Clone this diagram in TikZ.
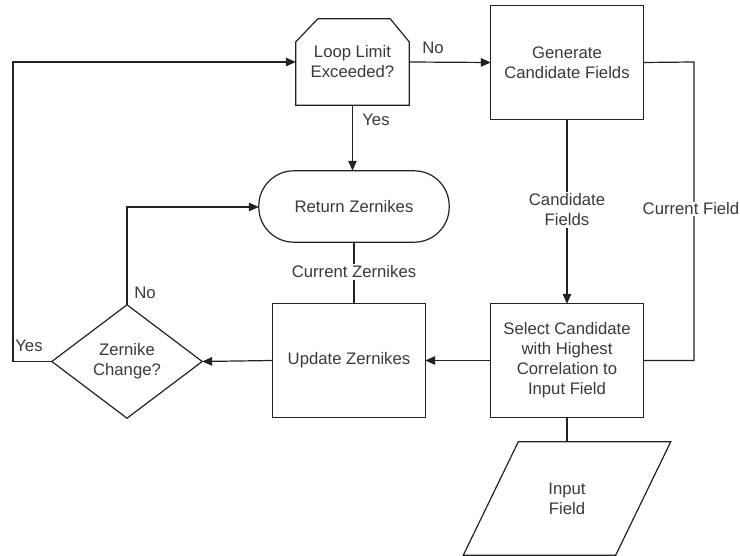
\documentclass[tikz,border=0pt]{standalone}
\usepackage{fontspec}
\setmainfont{Liberation Sans}
\usetikzlibrary{arrows.meta}
\definecolor{ln}{HTML}{222222}
\definecolor{tx}{HTML}{3A3A3A}
\begin{document}
\begin{tikzpicture}[x=1pt,y=-1pt,
  every node/.style={font=\fontsize{16.7}{20}\selectfont, text=tx, align=center},
  base/.style={draw=none, inner sep=0pt, minimum width=152pt, minimum height=113pt},
  outl/.style={draw=ln, line width=1.2pt, line join=miter},
  conn/.style={draw=ln, line width=1.2pt},
  arr/.style={conn, -{Triangle[length=10pt,width=8.5pt]}},
  lbl/.style={fill=white, inner sep=1.5pt}]
\useasboundingbox (0,0) rectangle (740,556);
% nodes
\node[base, minimum width=113pt, minimum height=86pt] (loop) at (352.5,62) {Loop Limit\\Exceeded?};
\node[base] (gen) at (567,62.5) {Generate\\Candidate Fields};
\node[base] (sel) at (567,360.5) {Select Candidate\\with Highest\\Correlation to\\Input Field};
\node[base] (upd) at (349,360.5) {Update Zernikes};
\node[base, minimum width=190pt, minimum height=71pt] (ret) at (354,206.5) {Return Zernikes};
\node[base, minimum width=150pt] (dia) at (127,361.5) {Zernike\\Change?};
\node[base] (inp) at (567,498.5) {Input\\Field};
% outlines
\draw[outl] (loop.south west) -- ([yshift=-23pt]loop.north west) -- ([xshift=22pt]loop.north west)
  -- ([xshift=-19pt]loop.north east) -- ([yshift=-23pt]loop.north east) -- (loop.south east) -- cycle;
\draw[outl] (gen.south west) rectangle (gen.north east);
\draw[outl] (sel.south west) rectangle (sel.north east);
\draw[outl] (upd.south west) rectangle (upd.north east);
\draw[outl, rounded corners=35pt] (ret.south west) rectangle (ret.north east);
\draw[outl] (dia.west) -- (dia.north) -- (dia.east) -- (dia.south) -- cycle;
\draw[outl] ([xshift=27.5pt]inp.north west) -- ([xshift=27.5pt]inp.north east)
  -- ([xshift=-27.5pt]inp.south east) -- ([xshift=-27.5pt]inp.south west) -- cycle;
% coordinates
\coordinate (cfA) at (694,62);
\coordinate (cfB) at (694,360.5);
\coordinate (noC) at (127,207);
\coordinate (ysA) at (13,361.5);
\coordinate (ysB) at (13,62);
% connectors
\draw[arr] (loop.east) -- (gen.west);
\node at (433,48) {No};
\draw[arr] (loop.south) -- (loop.south |- ret.north);
\node at (376,120) {Yes};
\draw[arr] (gen.south) -- (sel.north);
\node[lbl] at (567,210) {Candidate\\Fields};
\draw[conn] (gen.east) -- (cfA) -- (cfB) -- (sel.east);
\node[lbl, inner sep=1pt] at (691,209) {Current Field};
\draw[arr] (sel.west) -- (upd.east);
\draw[arr] (upd.west) -- (dia.east);
\draw[conn] (ret.south) -- (ret.south |- upd.north);
\node[lbl] at (354,272) {Current Zernikes};
\draw[arr] (dia.north) -- (noC) -- (noC -| ret.west);
\node at (145,293) {No};
\draw[arr] (dia.west) -- (ysA) -- (ysB) -- (loop.west);
\node at (29,346) {Yes};
\draw[conn] (sel.south) -- (inp.north);
\end{tikzpicture}
\end{document}
